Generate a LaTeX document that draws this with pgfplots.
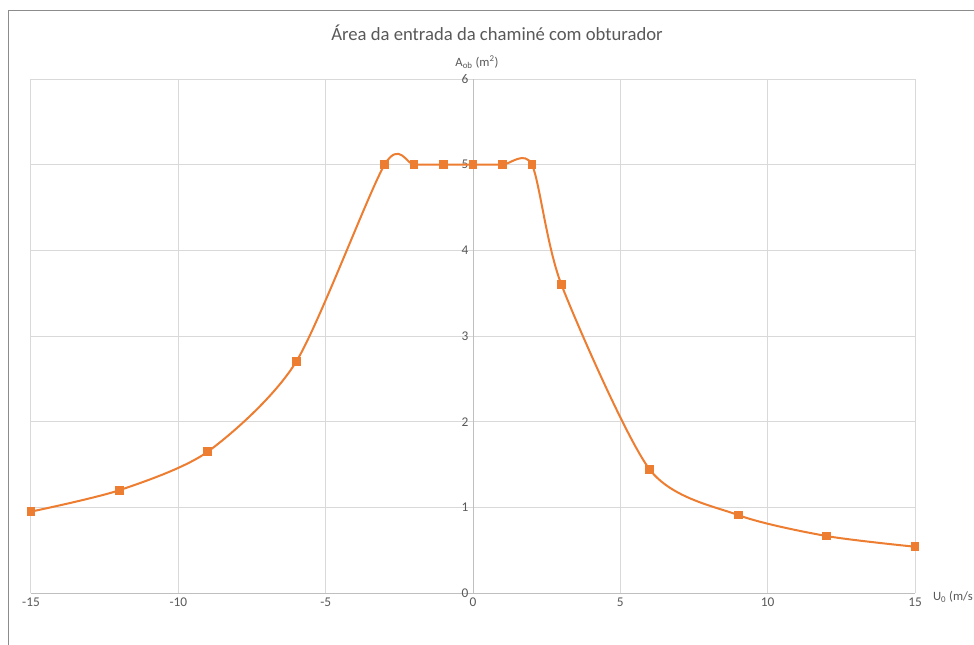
\documentclass[border=0pt]{standalone}
\usepackage{fontspec}
\setmainfont{Carlito}
\usepackage{pgfplots}
\pgfplotsset{compat=1.18}
\definecolor{ser}{HTML}{ED7D31}
\definecolor{txt}{HTML}{595959}
\definecolor{grd}{HTML}{D9D9D9}
\definecolor{axl}{HTML}{BFBFBF}
\definecolor{brd}{HTML}{8C8C8C}
\begin{document}
\begin{tikzpicture}
\clip (0,0) rectangle (730.5pt,483pt);
\fill[white] (0,0) rectangle (730.5pt,483pt);
\draw[brd, line width=0.75pt] (6pt,-2pt) -- (6pt,474.75pt) -- (735pt,474.75pt);
\node[text=txt, font=\fontsize{14}{16}\selectfont] at (372.75pt,458.25pt) {Área da entrada da chaminé com obturador};
\begin{axis}[
  at={(23.25pt,38.25pt)}, anchor=south west, scale only axis,
  width=663pt, height=385.5pt,
  xmin=-15, xmax=15, ymin=0, ymax=6,
  axis lines=middle,
  axis line style={axl, line width=0.75pt, -},
  xtick={-15,-10,...,15}, ytick={0,1,...,6},
  grid=major, grid style={grd, line width=0.75pt},
  major tick length=0pt,
  tick label style={text=txt, font=\fontsize{10}{12}\selectfont},
  /pgf/number format/assume math mode=true,
  hide obscured x ticks=false, hide obscured y ticks=false,
  xlabel={U\textsubscript{0} (m/s},
  ylabel={A\textsubscript{ob} (m\textsuperscript{2})},
  every axis x label/.style={at={(axis description cs:1,0)}, anchor=west, xshift=10pt, yshift=-3pt, text=txt, font=\fontsize{9.5}{11}\selectfont},
  every axis y label/.style={at={(axis cs:0,6)}, anchor=south, xshift=3pt, yshift=4.5pt, text=txt, font=\fontsize{9.5}{11}\selectfont},
]
\addplot[ser, line width=1.5pt, smooth, tension=0.45, mark=square*, mark size=2.5pt, mark options={solid, fill=ser}]
coordinates {
(-15,0.95) (-12,1.2) (-9,1.65) (-6,2.7) (-3,5) (-2,5) (-1,5) (0,5) (1,5) (2,5)
(3,3.6) (6,1.44) (9,0.91) (12,0.665) (15,0.54)
};
\end{axis}
\end{tikzpicture}
\end{document}
